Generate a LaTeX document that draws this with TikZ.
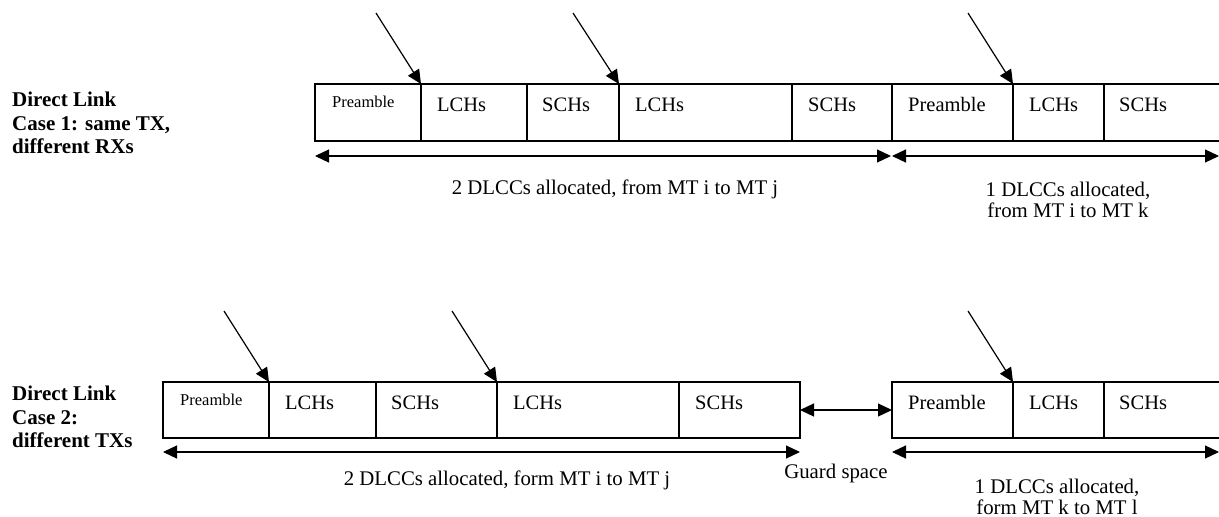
\documentclass[tikz,border=0pt]{standalone}
\usepackage{fontspec}
\setmainfont{Liberation Serif}
\usetikzlibrary{arrows.meta,calc}
\tikzset{
  cell/.style={draw, line width=1.2pt, minimum height=57pt, anchor=north west, inner sep=0pt, outer sep=0pt},
  celltxt/.style={anchor=base west, inner sep=0pt, font=\fontsize{20.5}{24}\selectfont},
  smalltxt/.style={anchor=base west, inner sep=0pt, font=\fontsize{16.5}{20}\selectfont},
  note/.style={inner sep=0pt, align=center, font=\fontsize{20.8}{21}\selectfont},
  side/.style={anchor=north west, inner sep=0pt, align=left, font=\fontsize{21}{23.5}\selectfont\bfseries},
  arr/.style={line width=1.2pt, -{Triangle[length=14pt,width=13pt]}},
  darr/.style={line width=1.2pt, {Triangle[length=14pt,width=13pt]}-{Triangle[length=14pt,width=13pt]}}
}
\begin{document}
\begin{tikzpicture}[x=1pt,y=-1pt]
\useasboundingbox (0,0) rectangle (1219,517);
% ---------- row 1 ----------
\node[cell, minimum width=106pt] (t1) at (315,84) {};
\node[cell, minimum width=106pt] (t2) at (421,84) {};
\node[cell, minimum width=92pt]  (t3) at (527,84) {};
\node[cell, minimum width=173pt] (t4) at (619,84) {};
\node[cell, minimum width=100pt] (t5) at (792,84) {};
\node[cell, minimum width=121pt] (t6) at (892,84) {};
\node[cell, minimum width=91pt]  (t7) at (1013,84) {};
\node[cell, minimum width=130pt] (t8) at (1104,84) {};
\node[smalltxt] (tt1) at ($(t1.north west)+(17,23)$) {Preamble};
\node[celltxt] (tt2) at ($(t2.north west)+(16,27.5)$) {LCHs};
\node[celltxt] (tt3) at ($(t3.north west)+(15,27.5)$) {SCHs};
\node[celltxt] (tt4) at ($(t4.north west)+(16,27.5)$) {LCHs};
\node[celltxt] (tt5) at ($(t5.north west)+(16,27.5)$) {SCHs};
\node[celltxt] (tt6) at ($(t6.north west)+(16,27.5)$) {Preamble};
\node[celltxt] (tt7) at ($(t7.north west)+(16,27.5)$) {LCHs};
\node[celltxt] (tt8) at ($(t8.north west)+(15,27.5)$) {SCHs};
\coordinate (s1) at (376,13);
\coordinate (s2) at (573,13);
\coordinate (s3) at (968,13);
\draw[arr] (s1) -- (t2.north west);
\draw[arr] (s2) -- (t4.north west);
\draw[arr] (s3) -- (t7.north west);
\coordinate (h1) at ($(t1.south west)+(0,15)$);
\coordinate (h2) at ($(t6.south west)+(-1,15)$);
\coordinate (h3) at ($(t6.south west)+(0,15)$);
\coordinate (h4) at (1219,156);
\draw[darr] (h1) -- (h2);
\draw[darr] (h3) -- (h4);
\node[note] (n1) at (615,189) {2 DLCCs allocated, from MT i to MT j};
\node[note] (n2) at (1068,200) {1 DLCCs allocated,\\from MT i to MT k};
\node[side] (lab1) at (12,92) {Direct Link\\Case 1: same TX,\\different RXs};
% ---------- row 2 ----------
\node[cell, minimum width=106pt, minimum height=56pt] (b1) at (163,382) {};
\node[cell, minimum width=107pt, minimum height=56pt] (b2) at (269,382) {};
\node[cell, minimum width=121pt, minimum height=56pt] (b3) at (376,382) {};
\node[cell, minimum width=182pt, minimum height=56pt] (b4) at (497,382) {};
\node[cell, minimum width=121pt, minimum height=56pt] (b5) at (679,382) {};
\node[cell, minimum width=121pt, minimum height=56pt] (b6) at (892,382) {};
\node[cell, minimum width=91pt, minimum height=56pt]  (b7) at (1013,382) {};
\node[cell, minimum width=130pt, minimum height=56pt] (b8) at (1104,382) {};
\node[smalltxt] (bt1) at ($(b1.north west)+(17,23)$) {Preamble};
\node[celltxt] (bt2) at ($(b2.north west)+(16,27)$) {LCHs};
\node[celltxt] (bt3) at ($(b3.north west)+(15,27)$) {SCHs};
\node[celltxt] (bt4) at ($(b4.north west)+(16,27)$) {LCHs};
\node[celltxt] (bt5) at ($(b5.north west)+(16,27)$) {SCHs};
\node[celltxt] (bt6) at ($(b6.north west)+(16,27)$) {Preamble};
\node[celltxt] (bt7) at ($(b7.north west)+(16,27)$) {LCHs};
\node[celltxt] (bt8) at ($(b8.north west)+(15,27)$) {SCHs};
\coordinate (u1) at (224,311);
\coordinate (u2) at (452,311);
\coordinate (u3) at (968,311);
\draw[arr] (u1) -- (b2.north west);
\draw[arr] (u2) -- (b4.north west);
\draw[arr] (u3) -- (b7.north west);
\draw[darr] (b5.east) -- (b6.west);
\coordinate (g1) at ($(b1.south west)+(0,14)$);
\coordinate (g2) at ($(b5.south east)+(0,14)$);
\coordinate (g3) at ($(b6.south west)+(0,14)$);
\coordinate (g4) at (1219,452);
\draw[darr] (g1) -- (g2);
\draw[darr] (g3) -- (g4);
\node[note] (n3) at (836,473) {Guard space};
\node[note] (n4) at (507,480) {2 DLCCs allocated, form MT i to MT j};
\node[note] (n5) at (1057,497) {1 DLCCs allocated,\\form MT k to MT l};
\node[side] (lab2) at (12,386) {Direct Link\\Case 2:\\different TXs};
\end{tikzpicture}
\end{document}
